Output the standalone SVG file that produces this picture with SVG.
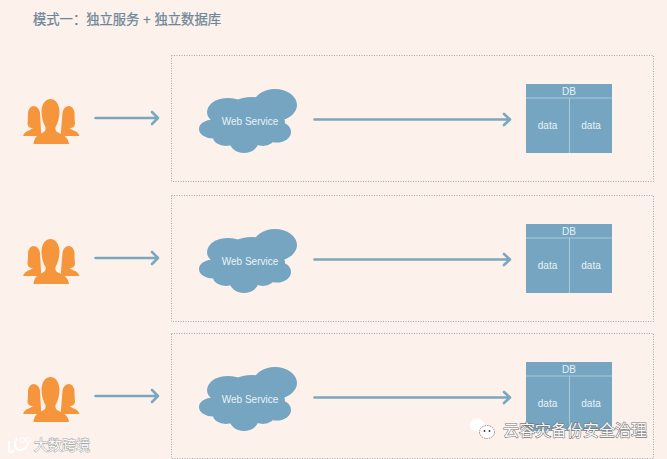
<svg xmlns="http://www.w3.org/2000/svg" width="667" height="459" viewBox="0 0 667 459">
<style>
text{font-family:"Liberation Sans","Noto Sans CJK SC",sans-serif}
.box{fill:none;stroke:#a8a8a8;stroke-width:1;stroke-dasharray:1 1.500}
.conn{fill:none;stroke:#7ba7bf;stroke-width:2.600;stroke-linecap:round;stroke-linejoin:round}
.blue{fill:#75a5c1}
.org{fill:#f5963c}
.div{stroke:#a9cbdd;stroke-width:1}
.lbl{fill:#eaf2f6;font-size:10px;text-anchor:middle}
.mark{fill:#f8f8f8;stroke:#777;stroke-width:1.100;paint-order:stroke}
.markl{fill:#f8f8f8;stroke:#aaa;stroke-width:1.100;paint-order:stroke}
</style>
<defs>
<g id="people">
<path class="org" d="M23 136C24 133 26 131 30 130L33 128C29 128 27.500 126 27.500 123C28 120 28 115 28 112C29 108 31 106 33.500 106C37 106 39.500 109 40 113L41 131L41 136Z"/>
<path class="org" d="M79.500 136C78.500 133 76.500 131 72.500 130L69.500 128C73.500 128 75 126 75 123C74.500 120 74.500 115 74.500 112C73.500 108 71.500 106 69 106C65.500 106 63 109 62.500 113L61 131L61 136Z"/>
<path class="org" d="M33.500 144C34 138 37 135 42 133C45 132 46 130 45.500 127C43 123 41.500 117 41.500 111C42 103 46 99 50.500 99C55 99 59 103 59.500 111C59.500 117 58 123 55.500 127C55 130 56 132 59 133C64 135 68.500 138 69 144Z"/>
</g>
<g id="cloud" class="blue">
<ellipse cx="275" cy="105" rx="22" ry="16"/>
<ellipse cx="228" cy="112" rx="21" ry="14"/>
<ellipse cx="252" cy="111" rx="24" ry="14"/>
<ellipse cx="213" cy="129" rx="14" ry="9.500"/>
<ellipse cx="226" cy="137" rx="13" ry="9"/>
<ellipse cx="244" cy="140" rx="15" ry="13"/>
<ellipse cx="263" cy="137" rx="12" ry="9"/>
<ellipse cx="277" cy="132" rx="14" ry="10.500"/>
<ellipse cx="249" cy="122" rx="36" ry="19"/>
</g>
<g id="dbshape">
<rect class="blue" x="526" y="84" width="86" height="69"/>
<line class="div" x1="526" y1="98" x2="612" y2="98"/>
<line class="div" x1="569.500" y1="98" x2="569.500" y2="153"/>
</g>
</defs>
<rect width="667" height="459" fill="#fdf1ec"/>
<text x="33" y="24" font-size="13.300" fill="#6d8798" stroke="#6d8798" stroke-width=".25">模式一：独立服务 + 独立数据库</text>

<g id="connectors">
<path class="conn" d="M95.500 118H158M152 112L158 118L152 124"/>
<path class="conn" d="M314.500 119.500H510M504 114L510 119.500L504 125"/>
<path class="conn" d="M95.500 258H158M152 252L158 258L152 264"/>
<path class="conn" d="M314.500 259.500H510M504 254L510 259.500L504 265"/>
<path class="conn" d="M95.500 396H158M152 390L158 396L152 402"/>
<path class="conn" d="M314.500 397.500H510M504 392L510 397.500L504 403"/>
</g>

<g id="container-1"><rect class="box" x="171.500" y="55.500" width="482" height="126"/></g>
<g id="container-2"><rect class="box" x="171.500" y="195.500" width="482" height="126"/></g>
<g id="container-3"><rect class="box" x="171.500" y="333.500" width="482" height="125"/></g>

<g id="users-1"><use href="#people"/></g>
<g id="users-2"><use href="#people" y="140"/></g>
<g id="users-3"><use href="#people" y="278"/></g>

<g id="service-1"><use href="#cloud"/><text class="lbl" x="250" y="124.500">Web Service</text></g>
<g id="service-2"><use href="#cloud" y="140"/><text class="lbl" x="250" y="264.500">Web Service</text></g>
<g id="service-3"><use href="#cloud" y="278"/><text class="lbl" x="250" y="402.500">Web Service</text></g>

<g id="db-1"><use href="#dbshape"/><text class="lbl" x="569" y="94.500">DB</text><text class="lbl" x="547.500" y="129">data</text><text class="lbl" x="591" y="129">data</text></g>
<g id="db-2"><use href="#dbshape" y="140"/><text class="lbl" x="569" y="234.500">DB</text><text class="lbl" x="547.500" y="269">data</text><text class="lbl" x="591" y="269">data</text></g>
<g id="db-3"><use href="#dbshape" y="278"/><text class="lbl" x="569" y="372.500">DB</text><text class="lbl" x="547.500" y="407">data</text><text class="lbl" x="591" y="407">data</text></g>

<g id="watermark-left">
<path d="M9 441V450C9 453 12 453 14 450M17 438C14 443 14 450 20 450C24 450 27 447 28 443" fill="none" stroke="#fff" stroke-width="2"/>
<circle cx="22" cy="440" r="2.500" fill="none" stroke="#fff" stroke-width="1"/>
<circle cx="28" cy="440" r="2.500" fill="none" stroke="#fff" stroke-width="1"/>
<text class="markl" x="34" y="450" font-size="14">大数跨境</text>
</g>
<g id="watermark-right">
<ellipse cx="477" cy="425" rx="7.500" ry="6.500" fill="#fff"/>
<ellipse cx="487" cy="432" rx="7.500" ry="6.500" fill="#fff" stroke="#444" stroke-width=".6" stroke-dasharray="1.500 1"/>
<circle cx="484.500" cy="431" r=".9" fill="#333"/><circle cx="489.500" cy="431" r=".9" fill="#333"/>
<text class="mark" x="503" y="436" font-size="16">云容灾备份安全治理</text>
</g>
</svg>
